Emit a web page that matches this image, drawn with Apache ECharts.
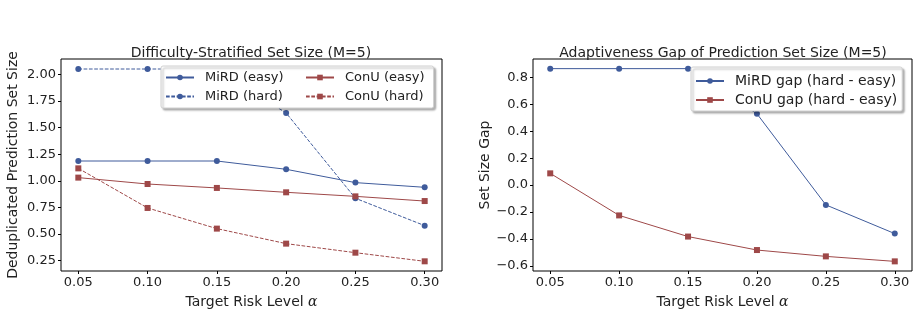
<!doctype html>
<meta charset="utf-8">
<style>
  html, body { margin: 0; padding: 0; width: 919px; height: 314px; background: #fff; }
  #chart { width: 919px; height: 314px; }
</style>
<script src="https://cdn.jsdelivr.net/npm/echarts@6/dist/echarts.min.js"></script>

<div id="chart"></div>

<script>
  const alphas = [0.05, 0.10, 0.15, 0.20, 0.25, 0.30];
  const mirdEasy = [1.186, 1.186, 1.186, 1.108, 0.983, 0.939];
  const mirdHard = [2.05, 2.05, 2.05, 1.637, 0.836, 0.579];
  const conuEasy = [1.030, 0.970, 0.933, 0.892, 0.854, 0.810];
  const conuHard = [1.117, 0.745, 0.551, 0.410, 0.325, 0.244];
  const mirdGap = [0.864, 0.864, 0.864, 0.529, -0.147, -0.360];
  const conuGap = [0.087, -0.225, -0.382, -0.482, -0.529, -0.566];
  const leftTicks = [0.25, 0.50, 0.75, 1.00, 1.25, 1.50, 1.75, 2.00];
  const rightTicks = [-0.6, -0.4, -0.2, 0.0, 0.2, 0.4, 0.6, 0.8];

  const BLUE = '#3f5b9b';
  const RED = '#9e4848';
  const FONT = 'DejaVu Sans';

  let chart = echarts.init(document.getElementById('chart'));
  const pairs = ys => alphas.map((a, i) => [a, ys[i]]);

  function xAxis(idx) {
    return {
      type: 'value', gridIndex: idx, min: 0.0375, max: 0.3125,
      name: 'Target Risk Level {i|α}', nameLocation: 'middle', nameGap: 24,
      nameTextStyle: { fontFamily: FONT, fontSize: 14, color: '#222',
        rich: { i: { fontFamily: 'DejaVu Serif', fontStyle: 'italic', fontSize: 14, color: '#222' } } },
      axisLine: { show: false, onZero: false },
      axisTick: { show: true, customValues: alphas, length: 3, lineStyle: { color: '#000' } },
      axisLabel: { customValues: alphas, fontFamily: FONT, fontSize: 13, color: '#222', margin: 5,
        formatter: v => v.toFixed(2) },
      splitLine: { show: false }
    };
  }

  function yAxis(idx, min, max, ticks, name, digits, gap) {
    return {
      type: 'value', gridIndex: idx, min: min, max: max,
      name: name, nameLocation: 'middle', nameGap: gap,
      nameTextStyle: { fontFamily: FONT, fontSize: 14, color: '#222' },
      axisLine: { show: false, onZero: false },
      axisTick: { show: true, customValues: ticks, length: 3, lineStyle: { color: '#000' } },
      axisLabel: { customValues: ticks, fontFamily: FONT, fontSize: 13, color: '#222', margin: 5,
        formatter: v => v.toFixed(digits).replace('-', '\u2212') },
      splitLine: { show: false }
    };
  }

  function line(name, data, color, symbol, dashed, idx) {
    return {
      name: name, type: 'line', xAxisIndex: idx, yAxisIndex: idx,
      data: pairs(data), symbol: symbol, symbolSize: 6,
      showSymbol: true, animation: false,
      lineStyle: { color: color, width: 1, type: dashed ? [3.7, 1.6] : 'solid' },
      itemStyle: { color: color }
    };
  }

  const frame = {
    backgroundColor: '#fff', borderColor: '#d0d0d0', borderWidth: 1, borderRadius: 2,
    shadowBlur: 2, shadowOffsetX: 2, shadowOffsetY: 2, shadowColor: 'rgba(0,0,0,0.3)'
  };
  const leftLegendText = { fontFamily: FONT, fontSize: 13, color: '#222', padding: [0, 0, 0, 6] };

  chart.setOption({
    animation: false,
    title: [
      { text: 'Difficulty-Stratified Set Size (M=5)', left: 246, top: 41, textAlign: 'center',
        textStyle: { fontFamily: FONT, fontSize: 14, fontWeight: 'normal', color: '#222' } },
      { text: 'Adaptiveness Gap of Prediction Set Size (M=5)', left: 718, top: 41, textAlign: 'center',
        textStyle: { fontFamily: FONT, fontSize: 14, fontWeight: 'normal', color: '#222' } }
    ],
    grid: [
      { left: 61, top: 59, width: 381, height: 212, show: true, borderColor: '#000', borderWidth: 1, backgroundColor: 'transparent' },
      { left: 533, top: 59, width: 379, height: 212, show: true, borderColor: '#000', borderWidth: 1, backgroundColor: 'transparent' }
    ],
    xAxis: [xAxis(0), xAxis(1)],
    yAxis: [
      yAxis(0, 0.153, 2.144, leftTicks, 'Deduplicated Prediction Set Size', 2, 41),
      yAxis(1, -0.6375, 0.9355, rightTicks, 'Set Size Gap', 1, 41)
    ],
    legend: [
      // first column carries the frame for both columns
      Object.assign({
        data: ['MiRD (easy)', 'MiRD (hard)'], left: 161, top: 66, orient: 'vertical',
        itemWidth: 28, itemHeight: 7, itemGap: 6, padding: [5, 150, 5, 4], z: 5,
        textStyle: leftLegendText
      }, frame),
      {
        data: ['ConU (easy)', 'ConU (hard)'], left: 301, top: 66, orient: 'vertical',
        itemWidth: 28, itemHeight: 7, itemGap: 6, padding: [5, 0, 5, 4], z: 6,
        textStyle: leftLegendText
      },
      Object.assign({
        data: ['MiRD gap (hard - easy)', 'ConU gap (hard - easy)'],
        left: 691, top: 67, orient: 'vertical', itemGap: 5, padding: [7, 5, 4, 4],
        itemWidth: 28, itemHeight: 7,
        textStyle: { fontFamily: FONT, fontSize: 14, color: '#222', padding: [0, 0, 0, 6] }
      }, frame)
    ],
    series: [
      line('MiRD (easy)', mirdEasy, BLUE, 'circle', false, 0),
      line('MiRD (hard)', mirdHard, BLUE, 'circle', true, 0),
      line('ConU (easy)', conuEasy, RED, 'rect', false, 0),
      line('ConU (hard)', conuHard, RED, 'rect', true, 0),
      line('MiRD gap (hard - easy)', mirdGap, BLUE, 'circle', false, 1),
      line('ConU gap (hard - easy)', conuGap, RED, 'rect', false, 1)
    ]
  });
</script>
